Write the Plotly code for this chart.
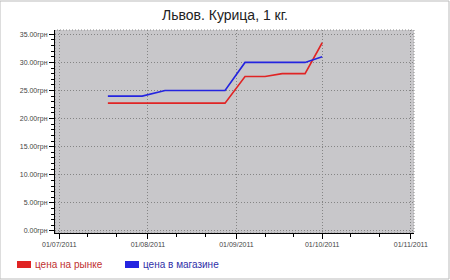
import plotly.graph_objects as go

market_dates = ["2011-07-18", "2011-08-28", "2011-09-04", "2011-09-11", "2011-09-17", "2011-09-25", "2011-10-01"]
market_prices = [22.75, 22.75, 27.5, 27.5, 28.0, 28.0, 33.5]
store_dates = ["2011-07-18", "2011-07-30", "2011-08-07", "2011-08-28", "2011-09-04", "2011-09-25", "2011-10-01"]
store_prices = [24.0, 24.0, 25.0, 25.0, 30.0, 30.0, 31.0]

x_ticks = ["2011-07-01", "2011-08-01", "2011-09-01", "2011-10-01", "2011-11-01"]
x_tick_labels = ["01/07/2011", "01/08/2011", "01/09/2011", "01/10/2011", "01/11/2011"]
x_minor = ["2011-07-11", "2011-07-21", "2011-08-11", "2011-08-21", "2011-09-11", "2011-09-21", "2011-10-11", "2011-10-21"]
y_ticks = [0, 5, 10, 15, 20, 25, 30, 35]
y_tick_labels = [f"{v:.2f}грн" for v in y_ticks]

red = "#e02424"
blue = "#2424e0"

fig = go.Figure()
fig.add_trace(go.Scatter(x=market_dates, y=market_prices, mode="lines",
                         line=dict(color=red, width=1.6), name="цена на рынке", showlegend=False))
fig.add_trace(go.Scatter(x=store_dates, y=store_prices, mode="lines",
                         line=dict(color=blue, width=1.6), name="цена в магазине", showlegend=False))

fig.update_layout(
    width=450, height=280,
    margin=dict(l=55, r=36, t=30, b=47),
    paper_bgcolor="white",
    plot_bgcolor="#c8c7ca",
    font=dict(family="Liberation Sans, Arial, sans-serif", color="#333"),
    title=dict(text="Львов. Курица, 1 кг.", x=0.5, xanchor="center", y=0.945, yanchor="middle",
               font=dict(size=14, color="#222")),
    showlegend=False,
)
fig.update_xaxes(
    type="date",
    range=["2011-06-29 12:00", "2011-11-02 03:00"],
    tickvals=x_ticks, ticktext=x_tick_labels,
    tickfont=dict(size=7, color="#444"),
    ticks="outside", ticklen=5, tickcolor="black", tickwidth=1,
    showline=True, linecolor="black", linewidth=1,
    showgrid=True, gridcolor="#858585", griddash="1px,2px", gridwidth=1,
    zeroline=False,
    minor=dict(tickvals=x_minor, ticks="outside", ticklen=3, tickcolor="black", showgrid=False),
)
fig.update_yaxes(
    range=[-0.36, 35.77],
    tickvals=y_ticks, ticktext=y_tick_labels,
    tickfont=dict(size=7, color="#444"),
    ticks="outside", ticklen=5, tickcolor="black", tickwidth=1,
    showline=True, linecolor="black", linewidth=1,
    showgrid=True, gridcolor="#858585", griddash="1px,2px", gridwidth=1,
    zeroline=False,
    minor=dict(dtick=1, ticks="outside", ticklen=3, tickcolor="black", showgrid=False),
)

# plot area dotted border (top/right)
fig.add_shape(type="rect", xref="paper", yref="paper", x0=0, y0=0, x1=1, y1=1,
              line=dict(color="#8a8a8a", width=1, dash="1px,2px"), layer="below")
# outer image border
fig.add_shape(type="rect", xref="paper", yref="paper",
              x0=-55/359, x1=1+35/359, y0=-46/203, y1=1+29/203,
              line=dict(color="#bbb", width=1))

# custom legend
px_x = lambda px: (px - 55) / 359
px_y = lambda py: (233 - py) / 203
legend_items = [("цена на рынке", red, "#c03030", 17), ("цена в магазине", blue, "#3030a8", 125)]
for label, col, tcol, x0 in legend_items:
    fig.add_shape(type="rect", xref="paper", yref="paper",
                  x0=px_x(x0), x1=px_x(x0 + 14), y0=px_y(268), y1=px_y(261),
                  fillcolor=col, line=dict(width=0))
    fig.add_annotation(xref="paper", yref="paper", x=px_x(x0 + 16), y=px_y(264.5),
                       xanchor="left", yanchor="middle", text=label, showarrow=False,
                       font=dict(size=10, color=tcol))

fig.write_html("out.html")
